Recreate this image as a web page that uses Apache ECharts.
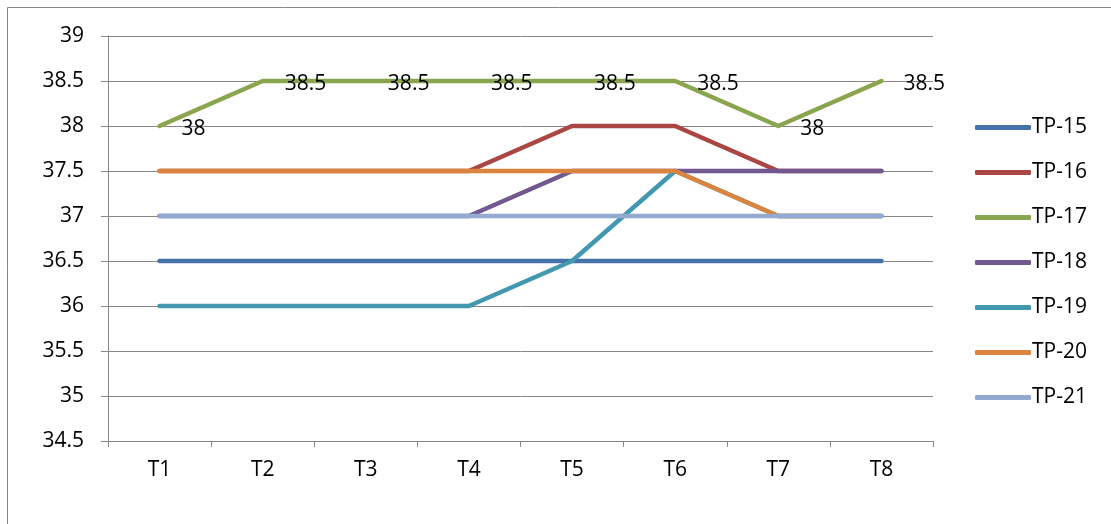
<!DOCTYPE html>
<html>
<head>
<meta charset="utf-8">
<script src="https://cdn.jsdelivr.net/npm/echarts@6/dist/echarts.min.js"></script>
<style>
html, body { margin: 0; padding: 0; background: #fff; }
#chart { width: 1111px; height: 524px; }
</style>
</head>
<body>
<div id="chart"></div>
<script>
var categories = ['T1', 'T2', 'T3', 'T4', 'T5', 'T6', 'T7', 'T8'];
var seriesNames = ['TP-15', 'TP-16', 'TP-17', 'TP-18', 'TP-19', 'TP-20', 'TP-21'];
var tp15 = [36.5, 36.5, 36.5, 36.5, 36.5, 36.5, 36.5, 36.5];
var tp16 = [37.5, 37.5, 37.5, 37.5, 38, 38, 37.5, 37.5];
var tp17 = [38, 38.5, 38.5, 38.5, 38.5, 38.5, 38, 38.5];
var tp18 = [37, 37, 37, 37, 37.5, 37.5, 37.5, 37.5];
var tp19 = [36, 36, 36, 36, 36.5, 37.5, 37, 37];
var tp20 = [37.5, 37.5, 37.5, 37.5, 37.5, 37.5, 37, 37];
var tp21 = [37, 37, 37, 37, 37, 37, 37, 37];
var colors = ['#4572A7', '#AA4643', '#89A54E', '#71588F', '#4198AF', '#DB843D', '#93A9CF'];

var allData = [tp15, tp16, tp17, tp18, tp19, tp20, tp21];
var font = 'Open Sans';
var fsize = 21;

var series = [];
for (var i = 0; i < allData.length; i++) {
    var s = {
        name: seriesNames[i],
        type: 'line',
        data: allData[i],
        symbol: 'none',
        lineStyle: { width: 4.5, color: colors[i], cap: 'round', join: 'round' },
        itemStyle: { color: colors[i] },
        z: 2 + i
    };
    if (seriesNames[i] == 'TP-17') {
        // labels need a symbol to hang on, so use an invisible one
        s.symbol = 'circle';
        s.symbolSize = 0.1;
        s.showSymbol = true;
        s.label = {
            show: true,
            position: 'right',
            distance: 22,
            offset: [0, 3],
            color: '#000',
            fontFamily: font,
            fontSize: fsize
        };
    }
    series.push(s);
}

var myChart = echarts.init(document.getElementById('chart'));
myChart.setOption({
    animation: false,
    color: colors,
    graphic: [{
        type: 'rect',
        shape: { x: 7.5, y: 7.5, width: 1200, height: 600 },
        style: { fill: 'none', stroke: '#868686', lineWidth: 1 },
        silent: true
    }],
    grid: { left: 108, top: 36, right: 178, bottom: 83 },
    legend: {
        orient: 'vertical',
        left: 970,
        top: 112,
        itemWidth: 56,
        itemHeight: 5,
        itemGap: 24,
        icon: 'roundRect',
        textStyle: { color: '#000', fontFamily: font, fontSize: fsize, padding: [0, 0, 0, -4] },
        data: seriesNames
    },
    xAxis: {
        type: 'category',
        data: categories,
        boundaryGap: true,
        axisLine: { lineStyle: { color: '#868686', width: 1 } },
        axisTick: { show: true, length: 6, lineStyle: { color: '#868686' } },
        axisLabel: { color: '#000', fontFamily: font, fontSize: fsize, margin: 19 }
    },
    yAxis: {
        type: 'value',
        min: 34.5,
        max: 39,
        interval: 0.5,
        axisLine: { show: true, lineStyle: { color: '#868686', width: 1 } },
        axisTick: { show: true, length: 7, lineStyle: { color: '#868686' } },
        axisLabel: { color: '#000', fontFamily: font, fontSize: fsize, margin: 24 },
        splitLine: { lineStyle: { color: '#868686', width: 1 } }
    },
    series: series
});
</script>
</body>
</html>
